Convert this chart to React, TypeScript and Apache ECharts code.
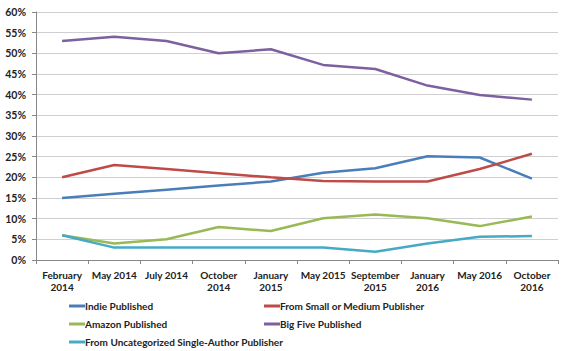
import React, { useEffect, useRef } from "react";
import * as echarts from "echarts";

const categories = [
  "February\n2014",
  "May 2014",
  "July 2014",
  "October\n2014",
  "January\n2015",
  "May 2015",
  "September\n2015",
  "January\n2016",
  "May 2016",
  "October\n2016",
];

const indie = [15, 16, 17, 18, 19, 21.1, 22.2, 25.1, 24.8, 19.7];
const smallMedium = [20, 23, 22, 21, 20, 19.1, 19, 19, 22, 25.7];
const amazon = [6, 4, 5, 8, 7, 10.1, 11, 10.1, 8.2, 10.5];
const bigFive = [53, 54, 53, 50, 51, 47.2, 46.2, 42.2, 39.9, 38.8];
const uncategorized = [6, 3, 3, 3, 3, 3, 2, 4, 5.6, 5.8];

const names = [
  "Indie Published",
  "From Small or Medium Publisher",
  "Amazon Published",
  "Big Five Published",
  "From Uncategorized Single-Author Publisher",
];
const colors = ["#4A7EBB", "#BE4B48", "#98B954", "#7D60A0", "#46AAC5"];
const seriesData = [indie, smallMedium, amazon, bigFive, uncategorized];

const FONT = "Lato";

export default function App() {
  const ref = useRef<HTMLDivElement>(null);
  useEffect(() => {
    if (!ref.current) return;
    const chart = echarts.init(ref.current, null, { renderer: "svg" });
    const legendPos = [
      { left: 69, top: 301 },
      { left: 264, top: 301 },
      { left: 69, top: 319 },
      { left: 264, top: 319 },
      { left: 69, top: 337 },
    ];
    chart.setOption({
      animation: false,
      backgroundColor: "#ffffff",
      grid: { left: 36, right: 4, top: 12, bottom: 91, containLabel: false },
      legend: names.map((n, i) => ({
        data: [n],
        left: legendPos[i].left,
        top: legendPos[i].top,
        icon: "rect",
        itemWidth: 16,
        itemHeight: 3,
        itemGap: 0,
        padding: 0,
        textStyle: {
          fontFamily: FONT,
          fontWeight: "bold",
          fontSize: 10,
          color: "#222",
          padding: [0, 0, 0, -5],
        },
      })),
      xAxis: {
        type: "category",
        data: categories,
        boundaryGap: true,
        axisLine: { lineStyle: { color: "#888888", width: 1 } },
        axisTick: { show: true, alignWithLabel: false, length: 4, lineStyle: { color: "#888888" } },
        axisLabel: {
          interval: 0,
          fontFamily: FONT,
          fontWeight: "bold",
          fontSize: 10,
          color: "#222",
          margin: 9,
          lineHeight: 12,
          align: "center",
        },
      },
      yAxis: {
        type: "value",
        min: 0,
        max: 60,
        interval: 5,
        axisLine: { show: true, lineStyle: { color: "#888888", width: 1 } },
        axisTick: { show: true, length: 4, lineStyle: { color: "#888888" } },
        splitLine: { lineStyle: { color: "#cfcfcf", width: 1 } },
        axisLabel: {
          formatter: "{value}%",
          fontFamily: FONT,
          fontWeight: "bold",
          fontSize: 10.5,
          color: "#222",
          margin: 10,
        },
      },
      series: names.map((n, i) => ({
        name: n,
        type: "line",
        data: seriesData[i],
        symbol: "none",
        lineStyle: { color: colors[i], width: 2.5 },
        itemStyle: { color: colors[i] },
      })),
    });
    return () => chart.dispose();
  }, []);
  return <div ref={ref} style={{ width: 562, height: 351, position: "absolute", left: 0, top: 0 }} />;
}
